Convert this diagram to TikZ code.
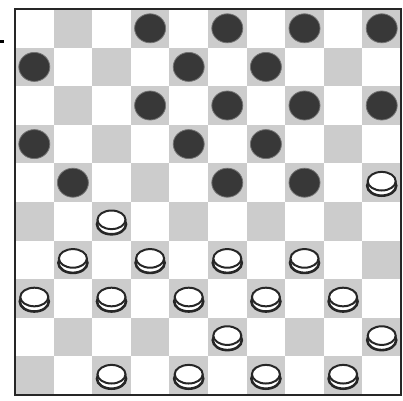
\documentclass[tikz,border=0pt]{standalone}
\begin{document}
\begin{tikzpicture}[x=1pt,y=-1pt,
  darksq/.style={fill=black!20},
  blackman/.style={fill=black!78, draw=black!55, line width=0.8pt},
  whitebase/.style={fill=white, draw=black!85, line width=2.6pt},
  whitetop/.style={fill=white, draw=black!85, line width=2pt},
  frame/.style={draw=black!85, line width=1.8pt}]
\useasboundingbox (0,0) rectangle (403,400);
\def\s{38.6}
% dark squares
\foreach \r in {1,...,10}{
  \foreach \c in {1,...,10}{
    \pgfmathtruncatemacro{\odd}{mod(\r+\c,2)}
    \ifnum\odd=1
      \fill[darksq] ({15+(\c-1)*\s},{9+(\r-1)*\s}) rectangle ++(\s,\s);
    \fi
  }
}
% board frame
\draw[frame] (15,9) rectangle (401,395);
% side marker
\fill[black] (0,39.5) rectangle (4,42.5);
% black men
\foreach \c/\r in {4/1,6/1,8/1,10/1,1/2,5/2,7/2,4/3,6/3,8/3,10/3,1/4,5/4,7/4,2/5,6/5,8/5}{
  \path[blackman] ({15+(\c-0.5)*\s},{9+(\r-0.5)*\s}) ellipse [x radius=15.5, y radius=14.5];
}
% white men
\foreach \c/\r in {10/5,3/6,2/7,4/7,6/7,8/7,1/8,3/8,5/8,7/8,9/8,6/9,10/9,3/10,5/10,7/10,9/10}{
  \path[whitebase] ({15+(\c-0.5)*\s},{9+(\r-0.5)*\s+3}) ellipse [x radius=14.5, y radius=10];
  \path[whitetop] ({15+(\c-0.5)*\s},{9+(\r-0.5)*\s-1.5}) ellipse [x radius=14, y radius=9.3];
}
\end{tikzpicture}
\end{document}
